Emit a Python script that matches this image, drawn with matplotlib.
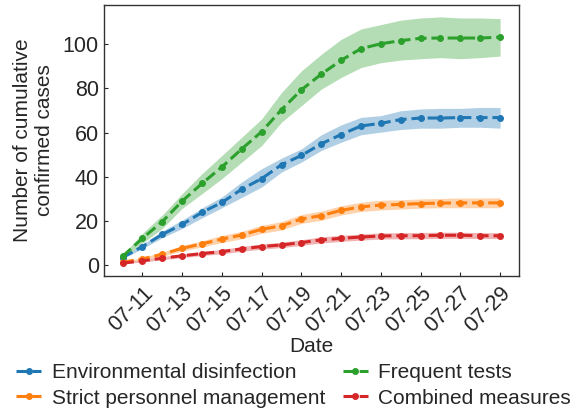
import matplotlib
matplotlib.use("Agg")
import matplotlib.pyplot as plt
import numpy as np

dates = ["07-%02d" % d for d in range(10, 30)]

env_mean = [3.3, 8.3, 13.8, 18.3, 23.8, 28.3, 34.3, 39.1, 45.4, 49.6, 54.9, 59.1, 63.0, 64.2, 65.9, 66.6, 66.6, 66.8, 66.8, 66.8]
env_low = [2.8, 7.3, 12.3, 16.5, 21.3, 25.9, 30.6, 35.3, 42.1, 46.6, 51.9, 55.6, 59.0, 60.2, 61.4, 62.0, 62.0, 62.4, 62.4, 62.0]
env_high = [3.8, 9.3, 15.3, 20.3, 25.8, 30.8, 37.6, 43.6, 48.4, 52.6, 59.0, 63.5, 66.9, 67.7, 69.9, 70.7, 71.0, 71.0, 71.4, 71.4]

strict_mean = [1.2, 2.7, 4.8, 7.5, 9.5, 11.7, 13.5, 16.1, 17.7, 20.8, 22.3, 24.7, 26.3, 27.1, 27.4, 27.8, 28.0, 28.1, 28.1, 28.1]
strict_low = [0.9, 2.1, 3.9, 6.3, 8.1, 10.1, 11.8, 14.3, 15.8, 18.8, 20.2, 22.6, 24.2, 24.9, 25.3, 25.7, 25.9, 25.9, 25.9, 25.9]
strict_high = [1.5, 3.3, 5.7, 8.7, 10.9, 13.3, 15.2, 17.9, 19.6, 22.8, 24.4, 26.8, 28.4, 29.3, 29.5, 29.9, 30.1, 30.3, 30.3, 30.4]

freq_mean = [3.8, 12.0, 19.6, 28.9, 36.9, 44.4, 52.6, 60.4, 70.4, 79.4, 86.5, 92.8, 98.1, 100.3, 101.7, 102.8, 102.9, 102.9, 102.9, 103.3]
freq_low = [3.0, 9.8, 16.5, 25.6, 32.3, 39.1, 46.6, 54.1, 64.7, 72.2, 79.7, 85.0, 89.5, 91.7, 92.9, 93.5, 94.0, 93.5, 94.0, 94.7]
freq_high = [4.5, 14.3, 22.6, 32.3, 41.4, 49.6, 57.9, 66.2, 78.2, 88.0, 95.5, 102.3, 107.0, 109.0, 111.0, 112.0, 112.5, 112.0, 112.0, 111.7]

comb_mean = [0.75, 1.8, 3.0, 4.1, 5.1, 6.0, 7.2, 8.3, 9.0, 10.1, 11.3, 12.0, 12.6, 13.1, 13.2, 13.2, 13.4, 13.4, 13.2, 13.2]
comb_low = [0.5, 1.3, 2.3, 3.3, 4.2, 5.0, 6.1, 7.1, 7.8, 8.8, 9.9, 10.6, 11.2, 11.7, 11.8, 11.8, 12.0, 12.0, 11.9, 11.9]
comb_high = [1.0, 2.3, 3.7, 4.9, 6.0, 7.0, 8.3, 9.5, 10.2, 11.4, 12.7, 13.4, 14.0, 14.5, 14.6, 14.7, 14.8, 14.8, 14.6, 14.6]

labels = ["Environmental disinfection", "Strict personnel management", "Frequent tests", "Combined measures"]
colors = ["#1f77b4", "#ff7f0e", "#2ca02c", "#d62728"]

plt.rcParams['font.family'] = ['Liberation Sans', 'DejaVu Sans']
plt.rcParams['text.color'] = '#262626'
plt.rcParams['axes.labelcolor'] = '#262626'
plt.rcParams['xtick.color'] = '#262626'
plt.rcParams['ytick.color'] = '#262626'

fig = plt.figure(figsize=(5.76, 4.12), dpi=100)
ax = fig.add_axes([0.18, 0.33, 0.721, 0.659])

x = np.arange(len(dates))
series = [(env_mean, env_low, env_high), (strict_mean, strict_low, strict_high),
          (freq_mean, freq_low, freq_high), (comb_mean, comb_low, comb_high)]
for (m, lo, hi), lab, c in zip(series, labels, colors):
    ax.fill_between(x, lo, hi, color=c, alpha=0.35, linewidth=0)
    ax.plot(x, m, linestyle='--', marker='o', markersize=4, linewidth=2.2, color=c, label=lab)

ax.set_xticks(x[1::2])
ax.set_xticklabels([dates[i] for i in range(1, len(dates), 2)], rotation=45, ha='right',
                   rotation_mode='anchor', fontsize=15.5)
ax.set_yticks([0, 20, 40, 60, 80, 100])
ax.tick_params(axis='both', direction='in', length=3, width=0.8, labelsize=15.5)
ax.tick_params(axis='x', pad=5)
for s in ax.spines.values():
    s.set_color('#333333')
    s.set_linewidth(1.0)
ax.set_xlabel("Date", fontsize=15, labelpad=0)
ax.set_ylabel("Number of cumulative\nconfirmed cases", fontsize=15, labelpad=6)

fig.legend(loc='lower center', bbox_to_anchor=(0.51, -0.03), ncol=2, frameon=False,
           fontsize=15, handlelength=1.2, columnspacing=0.85, handletextpad=0.5,
           labelspacing=0.3, borderpad=0.3)

fig.savefig("out.png", dpi=100)
